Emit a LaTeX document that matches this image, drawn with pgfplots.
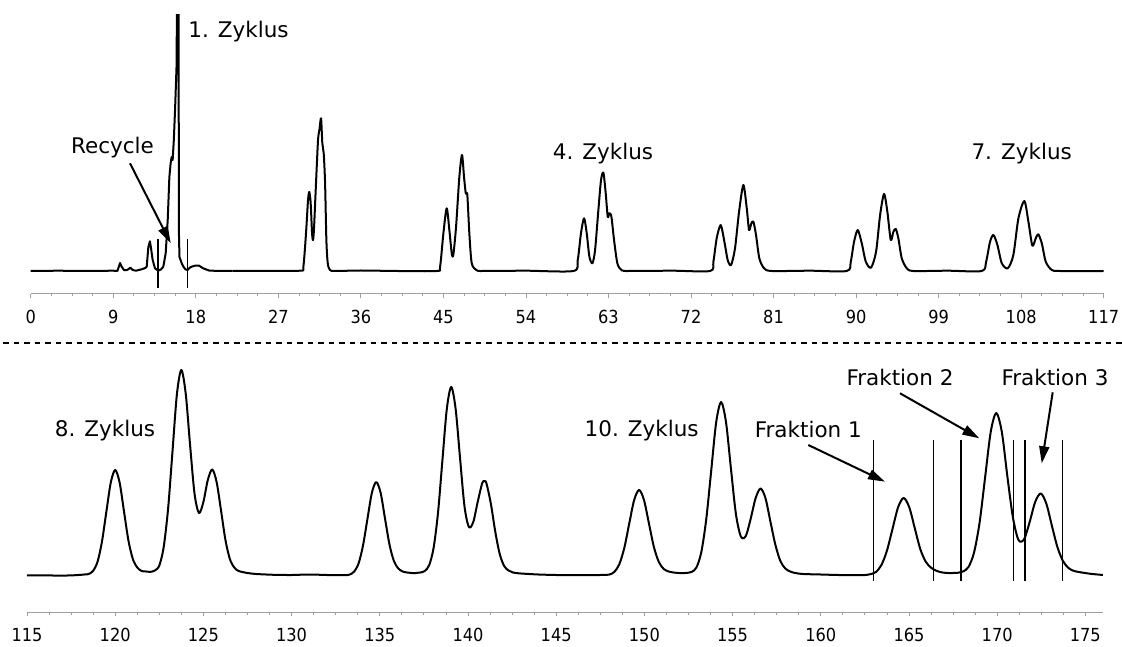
\documentclass[border=0pt]{standalone}
\usepackage{fontspec}
\setmainfont{DejaVu Sans}
\newfontfamily\tickfont{DejaVu Sans Condensed}
\usepackage{pgfplots}
\pgfplotsset{compat=1.18}
\usetikzlibrary{arrows.meta}
\newcommand{\lbl}{\fontsize{21.5}{25}\selectfont}
\pgfplotsset{
  chrom/.style={
    scale only axis, anchor=south west,
    axis x line=bottom, axis y line=none,
    x axis line style={-, draw=gray!75, line width=1pt},
    ytick=\empty,
    tick align=outside,
    major tick length=4pt, minor tick length=2.5pt,
    every tick/.style={draw=gray!75, line width=0.8pt},
    minor tick num=3,
    xticklabel style={font=\tickfont\fontsize{18}{21}\selectfont, yshift=-9pt},
    /pgf/number format/assume math mode=true,
    /pgf/number format/1000 sep={},
    clip=true,
  },
  trace/.style={black, line width=2pt, line join=round, no marks},
  cut/.style={black, line width=1.1pt, no marks, forget plot},
}
\begin{document}
\begin{tikzpicture}
\path[use as bounding box] (0pt,0pt) rectangle (1122pt,646pt);
% ---------------- top panel ----------------
\begin{axis}[chrom, at={(30.7pt,352pt)}, width=1073pt, height=279pt,
  xmin=0, xmax=117, ymin=-23, ymax=256, xtick={0,9,...,117}]
\addplot[trace] coordinates {
(0,0) (3,0.3) (6,0) (9,0.3) (9.45,0) (9.6,4) (9.74,8) (9.92,4.3) (10.17,1) (10.45,0.8)
(10.65,1.7) (10.86,3.3) (11.12,1) (11.48,0.3) (12.1,1.7) (12.5,3) (12.65,4.3) (12.83,24)
(13.0,29.7) (13.1,24) (13.3,11) (13.55,2.7) (13.9,0.3) (14.2,1.5) (14.46,4.3) (14.72,17.7)
(14.94,51) (15.12,94) (15.26,107.7) (15.37,114) (15.48,111) (15.6,130) (15.74,161)
(15.9,204) (15.98,300) (16.12,300) (16.16,40) (16.22,14) (16.47,7.7) (16.65,4.3) (16.87,1.7)
(17.1,1) (17.35,3.3) (17.6,4.5) (17.9,5.3) (18.36,5.3) (18.8,2.7) (19.5,0.3) (22,0)
};
\addplot[trace, smooth, tension=0.45] coordinates {
(22,0) (25,0.2) (29.37,0.3)
(29.73,4.3) (30.02,37.7) (30.24,71) (30.38,79) (30.53,67.7) (30.68,37.7) (30.79,31)
(30.9,44) (31.11,87.7) (31.33,131) (31.48,141) (31.66,152.7) (31.8,127.7) (31.95,117.7)
(32.1,87.7) (32.24,31) (32.39,7.7) (32.64,1) (33.18,0) (36,0.5) (40,0) (44.27,0)
(44.64,4.3) (45.0,37.7) (45.36,62.7) (45.65,41) (45.91,17.7) (46.08,16) (46.38,44)
(46.74,94) (47.03,116) (47.25,94) (47.44,77.7) (47.61,76) (47.83,37.7) (48.09,7.7)
(48.64,0.7) (49.36,0) (54,0.3) (59.18,0)
(59.65,11) (60.0,37.7) (60.34,52.7) (60.63,37.7) (60.92,14.3) (61.25,7.7) (61.54,21)
(61.9,61) (62.19,91) (62.45,98.3) (62.7,77.7) (62.92,54.3) (63.1,57.7) (63.32,54.3)
(63.61,31) (63.97,7.7) (64.45,0.7) (65.35,0) (70,0.3) (74.08,0)
(74.44,9.3) (74.8,32.7) (75.24,46) (75.64,29.3) (76.0,11) (76.37,6) (76.8,22.7)
(77.24,59.3) (77.71,86) (78.08,62.7) (78.33,41) (78.58,47.7) (78.8,49.3) (79.09,36)
(79.45,12.7) (79.97,2.7) (80.8,0) (85,0.3) (88.98,0)
(89.42,9.3) (89.78,29.3) (90.18,41) (90.62,27.7) (91.06,9.3) (91.63,3.3) (92.18,19.3)
(92.62,56) (93.05,77) (93.41,59.3) (93.78,31) (94.07,39.3) (94.33,42) (94.61,32.7)
(94.98,12.7) (95.53,2.7) (96.25,0) (100,0.3) (103.7,0)
(104.18,9.3) (104.61,29.3) (104.98,36) (105.41,26) (105.89,7.7) (106.54,2.7) (107.15,16)
(107.7,52.7) (108.35,70) (108.79,49.3) (109.22,25.3) (109.59,32.7) (109.87,36.7)
(110.25,27.7) (110.68,9.3) (111.34,1) (112.25,0) (117,0)
};
\addplot[cut] coordinates {(13.88,31.7) (13.88,-17.3)};
\addplot[cut] coordinates {(17.12,31.7) (17.12,-17.3)};
\end{axis}
% ---------------- bottom panel ----------------
\begin{axis}[chrom, at={(27pt,34pt)}, width=1076pt, height=266pt,
  xmin=115, xmax=176, ymin=-36, ymax=230, xtick={115,120,...,175}]
\addplot[trace, smooth, tension=0.5] coordinates {
(115,0.5) (116,0.6) (117,0.4) (117.75,0.8) (118.25,1.5) (118.5,2) (118.75,5.2) (119,14.3)
(119.25,34.4) (119.5,64.3) (119.75,93.5) (120,106) (120.25,93.5) (120.5,64.5) (120.75,35.5)
(121,17) (121.25,8.5) (121.5,5) (121.75,4.5) (122,4.2) (122.25,5.5) (122.5,10.5)
(122.75,29) (123,67.5) (123.25,125) (123.5,182) (123.75,206) (124,182) (124.25,130)
(124.5,82) (124.75,63) (125,74) (125.25,96) (125.5,106.5) (125.75,94) (126,65.5)
(126.25,36) (126.5,17) (126.75,8.5) (127,5) (127.5,3) (128,2) (129,1.2) (130,1)
(131,1.5) (132,1) (133,0.8)
(133.3,1.5) (133.55,4.5) (133.8,12.7) (134.05,30.5) (134.3,57) (134.55,83) (134.8,94)
(135.05,83) (135.3,57) (135.55,31.5) (135.8,15) (136.05,7.5) (136.3,4.5) (136.55,3.5)
(136.8,3) (137.05,3) (137.3,3.5) (137.55,5) (137.8,10.8) (138.05,28) (138.3,63)
(138.55,115.5) (138.8,167) (139.05,189) (139.3,167) (139.55,118) (139.8,70) (140.05,49)
(140.3,54) (140.55,74) (140.8,92.5) (140.925,95) (141.05,92.5) (141.3,72) (141.55,44)
(141.8,22) (142.05,10) (142.3,5.5) (142.55,3.5) (143,2.5) (144,1.5) (145,1) (146,0.8)
(147,1)
(147.5,1) (148.02,1.5) (148.3,4.2) (148.58,11.8) (148.86,27.9) (149.14,52.2) (149.42,75.9)
(149.7,86) (149.98,75.9) (150.26,52.5) (150.54,29) (150.82,14) (151.1,7) (151.38,4.5)
(151.66,3.5) (151.94,3) (152.3,3) (152.67,4) (152.95,8.5) (153.23,24) (153.51,57)
(153.79,105.5) (154.07,153.6) (154.35,174) (154.63,153.6) (154.91,107) (155.19,62)
(155.47,39.5) (155.75,40) (156.03,57.5) (156.31,78) (156.59,87.5) (156.87,77.5)
(157.15,54) (157.43,31) (157.71,15) (157.99,7.5) (158.27,4.5) (158.55,3) (159,2)
(160,1.5) (161,1) (162,1) (162.5,1)
(162.81,1.8) (163.125,4) (163.44,11) (163.755,25.5) (164.07,47.3) (164.385,68.8)
(164.7,78) (165.015,68.8) (165.33,47.8) (165.645,26.8) (165.96,14) (166.275,8) (166.59,5)
(166.9,3.5) (167.22,3) (167.5,3) (167.745,3.2) (168.06,4.5) (168.375,9) (168.69,23.5)
(169.005,53.5) (169.32,99) (169.635,144) (169.95,163) (170.265,144) (170.58,99.5)
(170.895,58.5) (171.21,36) (171.525,36.7) (171.84,53.8) (172.155,74) (172.47,82.5)
(172.785,72.5) (173.1,50.5) (173.415,29) (173.73,15) (174.045,8) (174.36,5) (174.8,3.5)
(175.3,2.2) (175.7,1.5) (176,1)
};
\addplot[cut] coordinates {(162.98,-4.7) (162.98,136)};
\addplot[cut] coordinates {(166.40,-4.7) (166.40,136)};
\addplot[cut] coordinates {(167.95,-4.7) (167.95,136)};
\addplot[cut] coordinates {(170.91,-4.7) (170.91,136)};
\addplot[cut] coordinates {(171.58,-4.7) (171.58,136)};
\addplot[cut] coordinates {(173.71,-4.7) (173.71,136)};
\end{axis}
% ---------------- separator ----------------
\draw[line width=2.2pt, dash pattern=on 5.5pt off 5pt] (3pt,303pt) -- (1122pt,303pt);
% ---------------- annotations ----------------
\node[anchor=base, font=\lbl, inner sep=0pt] at (238.5pt,608.5pt) {1. Zyklus};
\node[anchor=base, font=\lbl, inner sep=0pt] at (112.5pt,492.7pt) {Recycle};
\node[anchor=base, font=\lbl, inner sep=0pt] at (603pt,486pt) {4. Zyklus};
\node[anchor=base, font=\lbl, inner sep=0pt] at (1021.7pt,486.7pt) {7. Zyklus};
\node[anchor=base, font=\lbl, inner sep=0pt] at (105pt,209pt) {8. Zyklus};
\node[anchor=base, font=\lbl, inner sep=0pt] at (641.7pt,209.3pt) {10. Zyklus};
\node[anchor=base, font=\lbl, inner sep=0pt] at (808.3pt,208pt) {Fraktion 1};
\node[anchor=base, font=\lbl, inner sep=0pt] at (900pt,260pt) {Fraktion 2};
\node[anchor=base, font=\lbl, inner sep=0pt] at (1055pt,260pt) {Fraktion 3};
\begin{scope}[line width=2pt, -{Triangle[length=17pt,width=10pt]}]
\draw (130pt,482.7pt) -- (170.7pt,402.7pt);
\draw (808.3pt,201pt) -- (885pt,164.3pt);
\draw (900pt,252.7pt) -- (979.3pt,207.7pt);
\draw (1052.7pt,253.7pt) -- (1041.7pt,182.7pt);
\end{scope}
\end{tikzpicture}
\end{document}
